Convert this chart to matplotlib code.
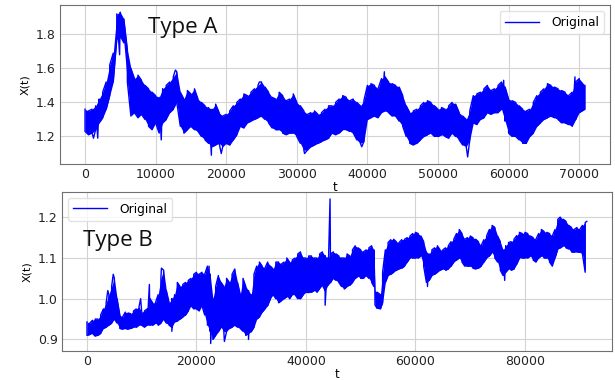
import matplotlib
matplotlib.use("Agg")
import matplotlib.pyplot as plt

# ---------------- data ----------------
# Type A: band envelope (upper / lower) of the noisy series, coarse readings
tA = [0, 1000, 2000, 3000, 4000, 4500, 5000, 5500, 6000, 6500, 7000, 8000, 9000,
      10000, 11000, 12000, 13000, 14000, 15000, 16000, 17000, 18000, 19000, 20000,
      21000, 22000, 23000, 24000, 25000, 26000, 27000, 28000, 29000, 30000, 31000,
      32000, 33000, 34000, 35000, 36000, 37000, 38000, 39000, 40000, 41000, 42000,
      43000, 44000, 45000, 46000, 47000, 48000, 49000, 50000, 51000, 52000, 53000,
      54000, 55000, 56000, 57000, 58000, 59000, 60000, 61000, 62000, 63000, 64000,
      65000, 66000, 67000, 68000, 69000, 70000, 70800]
upA = [1.36, 1.36, 1.42, 1.52, 1.69, 1.92, 1.93, 1.89, 1.71, 1.60, 1.54, 1.53, 1.48,
       1.44, 1.48, 1.52, 1.58, 1.42, 1.45, 1.42, 1.38, 1.36, 1.34, 1.33,
       1.38, 1.42, 1.44, 1.48, 1.52, 1.46, 1.42, 1.44, 1.42, 1.40, 1.35,
       1.34, 1.33, 1.36, 1.38, 1.42, 1.43, 1.42, 1.38, 1.50, 1.50, 1.54,
       1.52, 1.50, 1.44, 1.34, 1.36, 1.40, 1.40, 1.36, 1.36, 1.40, 1.34,
       1.30, 1.44, 1.46, 1.50, 1.48, 1.52, 1.42, 1.40, 1.36, 1.36, 1.44,
       1.48, 1.50, 1.48, 1.46, 1.46, 1.54, 1.50]
loA = [1.23, 1.22, 1.28, 1.36, 1.52, 1.77, 1.79, 1.75, 1.52, 1.32, 1.34, 1.33, 1.26,
       1.28, 1.28, 1.34, 1.40, 1.22, 1.26, 1.23, 1.18, 1.14, 1.16, 1.16,
       1.18, 1.26, 1.28, 1.30, 1.32, 1.28, 1.24, 1.22, 1.22, 1.20, 1.12,
       1.14, 1.16, 1.18, 1.22, 1.22, 1.24, 1.22, 1.16, 1.30, 1.32, 1.34,
       1.34, 1.32, 1.26, 1.16, 1.16, 1.20, 1.22, 1.20, 1.20, 1.22, 1.18,
       1.14, 1.28, 1.30, 1.34, 1.34, 1.36, 1.22, 1.20, 1.16, 1.20, 1.26,
       1.30, 1.32, 1.30, 1.28, 1.26, 1.34, 1.36]
# Type A: finer readings between the coarse ones
tA2 = [500, 1500, 2500, 3500, 7500, 8500, 9500, 10500, 11500, 12500, 13500, 14500,
       15500, 16500, 17500, 18500, 19500, 20500, 21500, 22500, 23500, 24500, 25500,
       26500, 27500, 28500, 29500, 30500, 31500, 32500, 33500, 34500, 35500, 36500,
       37500, 38500, 39500, 40500, 41500, 42500, 43500, 44500, 45500, 46500, 47500,
       48500, 49500, 50500, 51500, 52500, 53500, 54500, 55500, 56500, 57500, 58500,
       59500, 60500, 61500, 62500, 63500, 64500, 65500, 66500, 67500, 68500, 69500]
upA2 = [1.35, 1.38, 1.46, 1.62, 1.56, 1.50, 1.46, 1.43, 1.50, 1.55, 1.46, 1.47,
        1.48, 1.40, 1.37, 1.39, 1.32, 1.35, 1.40, 1.45, 1.46, 1.50, 1.49,
        1.43, 1.46, 1.41, 1.45, 1.38, 1.33, 1.35, 1.34, 1.38, 1.40, 1.44,
        1.41, 1.40, 1.41, 1.51, 1.48, 1.55, 1.51, 1.49, 1.38, 1.35, 1.38,
        1.41, 1.38, 1.37, 1.38, 1.39, 1.32, 1.35, 1.45, 1.48, 1.47, 1.50,
        1.49, 1.41, 1.38, 1.35, 1.40, 1.46, 1.51, 1.49, 1.47, 1.44, 1.52]
loA2 = [1.21, 1.24, 1.31, 1.44, 1.31, 1.30, 1.24, 1.22, 1.30, 1.36, 1.26, 1.24,
        1.24, 1.20, 1.16, 1.15, 1.14, 1.15, 1.21, 1.25, 1.29, 1.31, 1.30,
        1.25, 1.24, 1.21, 1.22, 1.16, 1.12, 1.15, 1.17, 1.19, 1.21, 1.24,
        1.23, 1.18, 1.17, 1.31, 1.31, 1.35, 1.32, 1.29, 1.20, 1.15, 1.18,
        1.21, 1.20, 1.21, 1.19, 1.20, 1.15, 1.18, 1.27, 1.31, 1.33, 1.34,
        1.29, 1.20, 1.18, 1.16, 1.22, 1.28, 1.31, 1.31, 1.28, 1.27, 1.30]
spikeA_t = [1200, 1800, 3500, 4900, 10800, 12800, 17900, 19300, 24700, 31100,
            39200, 42400, 54200, 59300, 69400]
spikeA_v = [1.19, 1.19, 1.62, 1.68, 1.18, 1.59, 1.09, 1.10, 1.52, 1.10,
            1.14, 1.58, 1.08, 1.53, 1.55]

# Type B: coarse readings
tB = [0, 1000, 2000, 3000, 4000, 5000, 6000, 7000, 8000, 9000, 10000, 11000, 12000,
      13000, 14000, 15000, 16000, 17000, 18000, 19000, 20000, 21000, 22000, 23000,
      24000, 25000, 26000, 27000, 28000, 29000, 30000, 31000, 32000, 33000, 34000,
      35000, 36000, 37000, 38000, 39000, 40000, 41000, 42000, 43000, 44000, 45000,
      46000, 47000, 48000, 49000, 50000, 51000, 52000, 52400, 52600, 53000, 53600,
      54000, 54500, 55000, 56000, 57000, 58000, 59000, 60000, 61000, 62000, 63000,
      64000, 65000, 66000, 67000, 68000, 69000, 70000, 71000, 72000, 73000, 74000,
      75000, 76000, 77000, 78000, 79000, 80000, 81000, 82000, 83000, 84000, 85000,
      86000, 87000, 88000, 89000, 90000, 91000]
upB = [0.943, 0.947, 0.95, 0.975, 1.01, 1.05, 0.96, 0.967, 0.963, 0.975, 0.967, 0.975, 0.99,
       1.01, 1.07, 0.99, 1.01, 1.03, 1.04, 1.05, 1.065, 1.065, 1.08, 1.0,
       1.057, 1.03, 1.04, 1.073, 1.01, 1.03, 1.01, 1.08, 1.08, 1.09, 1.073,
       1.09, 1.09, 1.09, 1.10, 1.115, 1.10, 1.105, 1.10, 1.115, 1.10, 1.115,
       1.105, 1.10, 1.105, 1.13, 1.12, 1.12, 1.13, 1.12, 1.02, 1.016, 1.01,
       1.065, 1.12, 1.138, 1.146, 1.138, 1.146, 1.154, 1.163, 1.154, 1.115, 1.12,
       1.13, 1.12, 1.13, 1.146, 1.17, 1.146, 1.154, 1.146, 1.13, 1.154, 1.18,
       1.154, 1.12, 1.138, 1.146, 1.163, 1.163, 1.154, 1.146, 1.17, 1.163, 1.154,
       1.195, 1.195, 1.18, 1.17, 1.17, 1.187]
loB = [0.91, 0.915, 0.91, 0.927, 0.935, 0.95, 0.927, 0.927, 0.927, 0.93, 0.935, 0.935, 0.935,
       0.935, 0.95, 0.935, 0.943, 0.95, 0.96, 0.983, 0.975, 0.983, 0.935, 0.90,
       0.919, 0.919, 0.927, 0.935, 0.927, 0.91, 0.919, 0.95, 0.967, 0.983, 1.01,
       0.99, 1.0, 1.0, 1.01, 1.0, 1.016, 1.016, 1.016, 1.033, 1.033, 1.05,
       1.04, 1.024, 1.033, 1.05, 1.05, 1.057, 1.04, 1.03, 0.985, 0.976, 0.975,
       0.99, 1.04, 1.057, 1.065, 1.073, 1.08, 1.10, 1.10, 1.105, 1.04, 1.057,
       1.065, 1.073, 1.073, 1.09, 1.10, 1.08, 1.08, 1.073, 1.08, 1.10, 1.114,
       1.09, 1.057, 1.073, 1.073, 1.10, 1.10, 1.105, 1.09, 1.105, 1.10, 1.08,
       1.122, 1.13, 1.122, 1.114, 1.114, 1.065]
# Type B: finer readings
tB2 = [500, 1500, 2500, 3500, 4500, 5500, 6500, 7500, 8500, 9500, 10500, 11500,
       12500, 13500, 14500, 15500, 16500, 17500, 18500, 19500, 20500, 21500, 22500,
       23500, 24500, 25500, 26500, 27500, 28500, 29500, 30500, 31500, 32500, 33500,
       34500, 35500, 36500, 37500, 38500, 39500, 40500, 41500, 42500, 43500, 44500,
       45500, 46500, 47500, 48500, 49500, 50500, 51500, 55500, 56500, 57500, 58500,
       59500, 60500, 61500, 62500, 63500, 64500, 65500, 66500, 67500, 68500, 69500,
       70500, 71500, 72500, 73500, 74500, 75500, 76500, 77500, 78500, 79500, 80500,
       81500, 82500, 83500, 84500, 85500, 86500, 87500, 88500, 89500, 90500]
upB2 = [0.94, 0.95, 0.96, 0.99, 1.03, 1.00, 0.955, 0.965, 0.97, 0.98, 0.97, 1.0,
        0.99, 1.05, 1.02, 1.0, 1.04, 1.035, 1.045, 1.06, 1.06, 1.06, 1.06,
        1.03, 1.04, 1.05, 1.06, 1.04, 1.05, 1.02, 1.06, 1.09, 1.075, 1.08,
        1.09, 1.085, 1.10, 1.095, 1.11, 1.10, 1.105, 1.10, 1.11, 1.105, 1.11,
        1.11, 1.10, 1.11, 1.12, 1.125, 1.115, 1.125, 1.145, 1.14, 1.145, 1.15,
        1.16, 1.16, 1.14, 1.11, 1.125, 1.12, 1.125, 1.14, 1.16, 1.16, 1.15,
        1.15, 1.14, 1.145, 1.17, 1.175, 1.14, 1.13, 1.14, 1.155, 1.16, 1.16,
        1.15, 1.16, 1.165, 1.16, 1.17, 1.20, 1.19, 1.175, 1.175, 1.18]
loB2 = [0.912, 0.908, 0.915, 0.93, 0.94, 0.94, 0.925, 0.925, 0.93, 0.935, 0.93, 0.935,
        0.94, 0.94, 0.94, 0.93, 0.945, 0.955, 0.97, 0.975, 0.97, 0.96, 0.92,
        0.91, 0.93, 0.92, 0.93, 0.93, 0.92, 0.915, 0.93, 0.955, 0.975, 1.0,
        1.0, 0.995, 1.005, 1.01, 1.0, 1.01, 1.015, 1.02, 1.025, 1.02, 1.04,
        1.045, 1.03, 1.03, 1.04, 1.055, 1.05, 1.05, 1.06, 1.07, 1.075, 1.09,
        1.10, 1.10, 1.08, 1.045, 1.06, 1.07, 1.07, 1.08, 1.095, 1.09, 1.08,
        1.075, 1.075, 1.09, 1.105, 1.10, 1.07, 1.065, 1.07, 1.085, 1.10, 1.10,
        1.095, 1.10, 1.10, 1.09, 1.10, 1.125, 1.125, 1.115, 1.115, 1.11]
spikeB_t = [3800, 4800, 9800, 11400, 13600, 15500, 22300, 22600, 25100, 29500,
            43500, 44400, 62200, 76300, 86400, 91300]
spikeB_v = [1.02, 1.06, 1.0, 1.035, 1.075, 0.92, 1.08, 0.89, 0.895, 0.90,
            0.984, 1.245, 1.03, 1.045, 1.20, 1.19]

panels = [
    dict(t=tA + tA2, up=upA + upA2, lo=loA + loA2, st=spikeA_t, sv=spikeA_v, name="Type A",
         yticks=[1.2, 1.4, 1.6, 1.8],
         xticks=[0, 10000, 20000, 30000, 40000, 50000, 60000, 70000],
         legend_loc="upper right"),
    dict(t=tB + tB2, up=upB + upB2, lo=loB + loB2, st=spikeB_t, sv=spikeB_v, name="Type B",
         yticks=[0.9, 1.0, 1.1, 1.2], xticks=[0, 20000, 40000, 60000, 80000],
         legend_loc="upper left"),
]

# ---------------- figure ----------------
fig = plt.figure(figsize=(6.15, 3.8), dpi=100)
rects = [[0.0976, 0.568, 0.894, 0.419], [0.1008, 0.077, 0.894, 0.4185]]
text_pos = [(0.16, 0.824), (0.038, 0.658)]
blue = "#0000ff"

for p, rect, tp in zip(panels, rects, text_pos):
    ax = fig.add_axes(rect)
    env = sorted(zip(p["t"], p["up"], p["lo"]), key=lambda q: q[0])
    te = [q[0] for q in env]
    ue = [q[1] for q in env]
    le = [q[2] for q in env]
    pts = []
    for i, (t, u, l) in enumerate(env):
        if i % 2 == 0:
            pts += [(t, u), (t, l)]
        else:
            pts += [(t, l), (t, u)]
    pts += list(zip(p["st"], p["sv"]))
    pts.sort(key=lambda q: q[0])
    xs = [q[0] for q in pts]
    ys = [q[1] for q in pts]
    ax.fill_between(te, le, ue, color=blue, lw=0)
    ax.plot(xs, ys, color=blue, lw=1.0, label="Original")
    ax.set_xticks(p["xticks"])
    ax.set_yticks(p["yticks"])
    ax.grid(True, color="#d3d3d3", lw=0.8)
    ax.set_axisbelow(True)
    for s in ax.spines.values():
        s.set_color("#707070")
    ax.tick_params(labelsize=9, colors="#707070", labelcolor="#222222", length=0, pad=3)
    ax.set_xlabel("t", fontsize=8.5, labelpad=0)
    ax.set_ylabel("X(t)", fontsize=8, labelpad=4)
    ax.text(tp[0], tp[1], p["name"], transform=ax.transAxes, fontsize=16,
            family="Open Sans", color="#111111")
    ax.legend(loc=p["legend_loc"], fontsize=8.8, handlelength=2.8, handletextpad=1.0,
              borderaxespad=0.5, framealpha=0.8, edgecolor="#dddddd")

fig.savefig("out.png", dpi=100)
